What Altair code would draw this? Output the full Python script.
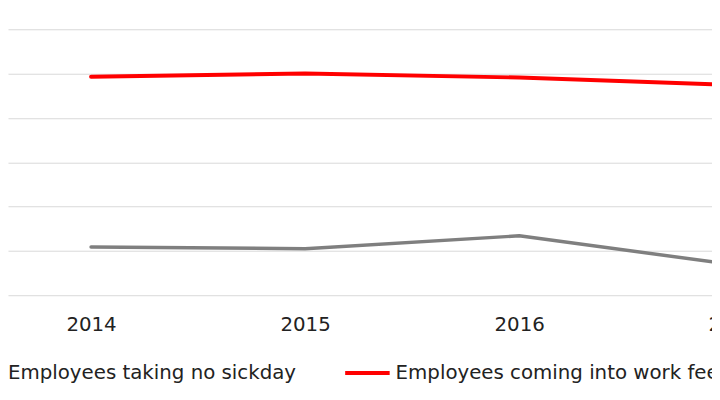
import altair as alt
import pandas as pd

years = [2014, 2015, 2016, 2017]
series_names = [
    "Employees taking no sickday",
    "Employees coming into work feeling unwell",
]
no_sickday = [10.9, 10.5, 13.4, 6.9]
feeling_unwell = [49.3, 50.0, 49.1, 47.4]
series_colors = ["#7f7f7f", "#ff0000"]
series_widths = [3.5, 4]
y_ticks = [0, 10, 20, 30, 40, 50, 60]

rows = []
for name, vals in zip(series_names, [no_sickday, feeling_unwell]):
    for yr, v in zip(years, vals):
        rows.append({"year": yr, "value": v, "series": name})
df = pd.DataFrame(rows)

FONT = "DejaVu Sans"
W = 900
PX_PER_YEAR = 216.5
x_min = 2014 - 84 / PX_PER_YEAR
x_max = x_min + W / PX_PER_YEAR

chart = (
    alt.Chart(df)
    .mark_line(strokeCap="round", strokeJoin="round")
    .encode(
        x=alt.X(
            "year:Q",
            scale=alt.Scale(domain=[x_min, x_max], nice=False, zero=False),
            axis=alt.Axis(
                values=years,
                format="d",
                title=None,
                grid=False,
                domain=False,
                ticks=False,
                tickSize=0,
                labelFontSize=20,
                labelFont=FONT,
                labelColor="#222222",
                labelPadding=20,
                labelFlush=False,
                labelOverlap=False,
            ),
        ),
        y=alt.Y(
            "value:Q",
            scale=alt.Scale(domain=[0, 60], nice=False),
            axis=alt.Axis(
                values=y_ticks,
                labels=False,
                ticks=False,
                domain=False,
                title=None,
                gridColor="#d9d9d9",
                gridWidth=1,
            ),
        ),
        color=alt.Color(
            "series:N",
            scale=alt.Scale(domain=series_names, range=series_colors),
            legend=alt.Legend(
                orient="none",
                legendX=-53,
                legendY=323,
                direction="horizontal",
                title=None,
                symbolType="stroke",
                symbolSize=2025,
                symbolStrokeWidth=4,
                labelFontSize=20,
                labelFont=FONT,
                labelColor="#222222",
                labelOffset=4,
                columnPadding=41,
                padding=0,
                labelLimit=1000,
            ),
        ),
        strokeWidth=alt.StrokeWidth(
            "series:N",
            scale=alt.Scale(domain=series_names, range=series_widths),
            legend=None,
        ),
    )
    .properties(
        width=W,
        height=269,
        autosize="none",
        padding={"left": 0, "right": 712 - W, "top": 19.3, "bottom": 95.7},
    )
    .configure_view(stroke=None)
)

chart.save("out.html", embed_options={"renderer": "svg", "actions": False})
